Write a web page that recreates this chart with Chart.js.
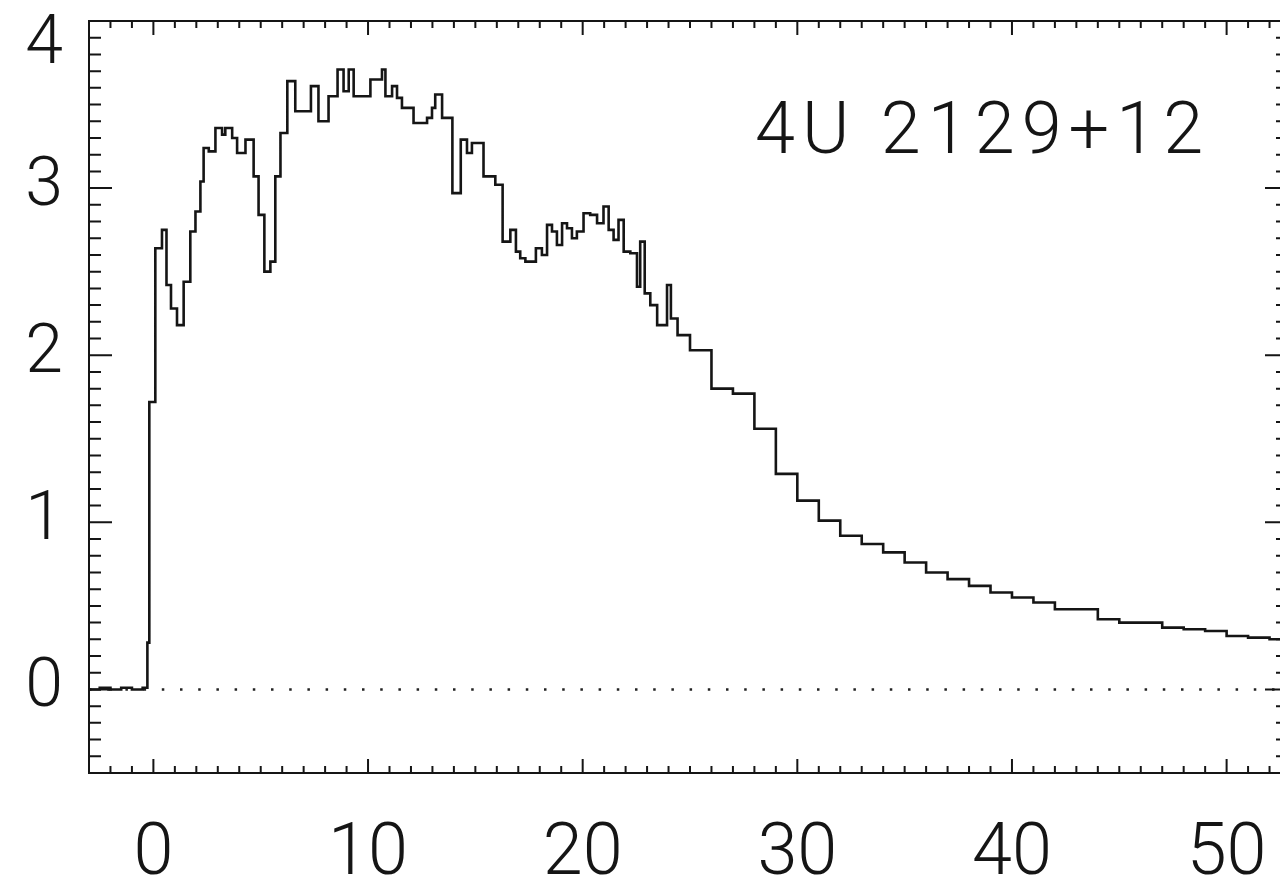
<!DOCTYPE html>
<html>
<head>
<meta charset="utf-8">
<title>4U 2129+12</title>
<script src="https://cdn.jsdelivr.net/npm/chart.js@4.4.1/dist/chart.umd.min.js"></script>
<style>
  html, body { margin: 0; padding: 0; background: #fff; overflow: hidden; }
  #wrap { position: relative; width: 1292px; height: 884px; }
</style>
</head>
<body>
<div id="wrap"><canvas id="lc"></canvas></div>
<script>
// light curve of 4U 2129+12, step histogram (left edge of each bin + its value)
var sourceName = '4U 2129+12';
var xTicks = [0, 10, 20, 30, 40, 50];
var yTicks = [0, 1, 2, 3, 4];
var xMin = -3, xMax = 52.86;
var yMin = -0.5, yMax = 4;

var binStart = [-3.0, -2.5, -2.0, -1.5, -1.0, -0.5, -0.28, -0.19,
  0.09, 0.40, 0.61, 0.82, 1.10, 1.41, 1.72, 1.96, 2.19, 2.34,
  2.58, 2.89, 3.20, 3.35, 3.67, 3.90, 4.29, 4.67, 4.90, 5.17,
  5.45, 5.68, 5.92, 6.24, 6.61, 7.34, 7.69, 8.16, 8.58, 8.86,
  9.10, 9.33, 10.11, 10.65, 10.81, 11.12, 11.35, 11.58, 12.12, 12.75,
  12.98, 13.13, 13.45, 13.93, 14.32, 14.61, 14.84, 15.38, 15.93, 16.27,
  16.63, 16.89, 17.09, 17.33, 17.82, 18.10, 18.34, 18.57, 18.80, 19.04,
  19.27, 19.50, 19.73, 20.04, 20.35, 20.67, 20.97, 21.21, 21.44, 21.67,
  21.91, 22.22, 22.53, 22.68, 22.89, 23.15, 23.47, 23.93, 24.11, 24.42,
  25, 26, 27, 28, 29, 30, 31, 32, 33, 34,
  35, 36, 37, 38, 39, 40, 41, 42, 43, 44,
  45, 46, 47, 48, 49, 50, 51, 52];

var rate = [0.00, 0.01, 0.00, 0.01, 0.00, 0.01, 0.28, 1.72,
  2.64, 2.75, 2.42, 2.28, 2.18, 2.44, 2.74, 2.86, 3.04, 3.24,
  3.22, 3.36, 3.32, 3.36, 3.30, 3.21, 3.29, 3.07, 2.84, 2.50,
  2.56, 3.07, 3.33, 3.64, 3.46, 3.61, 3.40, 3.55, 3.71, 3.58,
  3.71, 3.55, 3.65, 3.71, 3.55, 3.61, 3.54, 3.48, 3.39, 3.42,
  3.48, 3.56, 3.42, 2.97, 3.29, 3.21, 3.27, 3.07, 3.02, 2.68,
  2.75, 2.62, 2.58, 2.56, 2.64, 2.60, 2.78, 2.74, 2.66, 2.79,
  2.76, 2.70, 2.74, 2.85, 2.84, 2.79, 2.89, 2.75, 2.69, 2.81,
  2.62, 2.61, 2.41, 2.68, 2.37, 2.30, 2.18, 2.42, 2.22, 2.12,
  2.03, 1.80, 1.77, 1.56, 1.29, 1.13, 1.01, 0.92, 0.87, 0.82,
  0.76, 0.70, 0.66, 0.62, 0.58, 0.55, 0.52, 0.48, 0.48, 0.42,
  0.40, 0.40, 0.37, 0.36, 0.35, 0.32, 0.31, 0.30];

var fontFam = 'Roboto, "Open Sans", sans-serif';
var ink = '#151515';

var pts = binStart.map(function(x, i) { return { x: x, y: rate[i] }; });
pts.push({ x: xMax, y: rate[rate.length - 1] });   // close the last bin

// frame with inward ticks on all four sides + the source label
var framePlugin = {
  id: 'frame',
  afterDatasetsDraw: function(chart) {
    var ctx = chart.ctx, a = chart.chartArea;
    var sx = chart.scales.x, sy = chart.scales.y;
    ctx.save();
    ctx.strokeStyle = ink;
    ctx.lineWidth = 2;
    ctx.strokeRect(a.left, a.top, a.right - a.left, a.bottom - a.top);
    ctx.beginPath();
    for (var v = Math.ceil(xMin); v <= xMax; v++) {
      var px = sx.getPixelForValue(v);
      var len = (v % 10 === 0) ? 14 : 7;
      ctx.moveTo(px, a.bottom); ctx.lineTo(px, a.bottom - len);
      ctx.moveTo(px, a.top); ctx.lineTo(px, a.top + len);
    }
    for (var k = -5; k <= 40; k++) {
      var py = sy.getPixelForValue(k / 10);
      var ln = (k % 10 === 0) ? 23 : 12;
      ctx.moveTo(a.left, py); ctx.lineTo(a.left + ln, py);
      ctx.moveTo(a.right, py); ctx.lineTo(a.right - ln, py);
    }
    ctx.stroke();
    ctx.fillStyle = ink;
    ctx.font = '300 72px ' + fontFam;
    ctx.letterSpacing = '7px';
    ctx.textBaseline = 'alphabetic';
    ctx.textAlign = 'left';
    ctx.fillText(sourceName, 755, 153);
    ctx.restore();
  }
};

new Chart(document.getElementById('lc'), {
  type: 'line',
  data: {
    datasets: [{
      data: pts,
      stepped: true,
      borderColor: ink,
      borderWidth: 2.6,
      pointRadius: 0,
      fill: false
    }, {
      // dotted zero level
      data: [{ x: xMin, y: 0 }, { x: xMax, y: 0 }],
      borderColor: '#222',
      borderWidth: 2.5,
      borderDash: [2.5, 15.7],
      pointRadius: 0,
      fill: false
    }]
  },
  options: {
    responsive: true,
    maintainAspectRatio: false,
    animation: false,
    layout: { autoPadding: false, padding: { top: 21, right: 4, left: 0, bottom: 0 } },
    plugins: { legend: { display: false }, tooltip: { enabled: false } },
    scales: {
      x: {
        type: 'linear', min: xMin, max: xMax,
        afterBuildTicks: function(s) { s.ticks = xTicks.map(function(v) { return { value: v }; }); },
        afterFit: function(s) {
          s.height = 111;
          s.paddingLeft = 0; s.paddingRight = 0;
        },
        grid: { display: false, drawTicks: false },
        border: { display: false },
        ticks: { color: ink, padding: 40, maxRotation: 0, autoSkip: false,
                 font: { family: fontFam, size: 72, weight: 300 } }
      },
      y: {
        type: 'linear', min: yMin, max: yMax,
        afterBuildTicks: function(s) { s.ticks = yTicks.map(function(v) { return { value: v }; }); },
        afterFit: function(s) {
          s.width = 89;
          s.paddingTop = 0; s.paddingBottom = 0;
        },
        grid: { display: false, drawTicks: false },
        border: { display: false },
        ticks: { color: ink, padding: 26,
                 callback: function(v) { return v === 4 ? ['', '4'] : String(v); },
                 font: { family: fontFam, size: 68, weight: 300, lineHeight: 0.73 } }
      }
    }
  },
  plugins: [framePlugin]
});
</script>
</body>
</html>
